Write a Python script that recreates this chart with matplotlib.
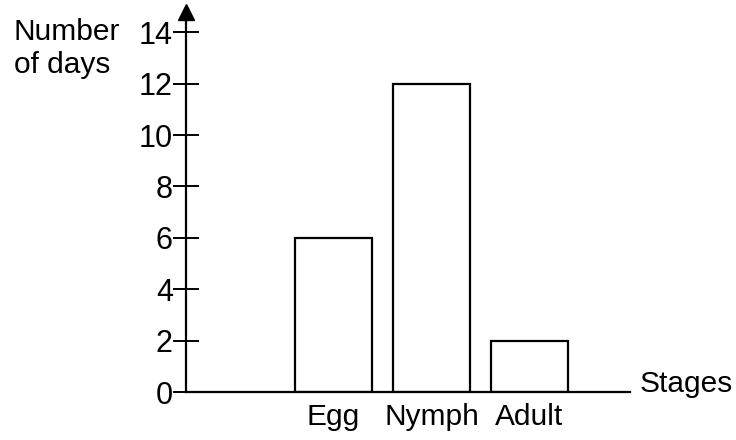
import matplotlib
matplotlib.use("Agg")
import matplotlib.pyplot as plt

plt.rcParams['font.family'] = ['Liberation Sans', 'DejaVu Sans']

stages = ["Egg", "Nymph", "Adult"]
days = [6, 12, 2]
yticks = [0, 2, 4, 6, 8, 10, 12, 14]

fig = plt.figure(figsize=(7.36, 4.4), dpi=100)
ax = fig.add_axes([186/736, 48/440, 444/736, (392-12)/440])

x = [1, 2, 3]
ax.bar(x, days, width=0.785, facecolor='white', edgecolor='black', linewidth=1.6, zorder=2)

ax.set_xlim(-0.505, 4.026)
ax.set_ylim(0, 380/25.7)

for s in ['top', 'right']:
    ax.spines[s].set_visible(False)
for s in ['left', 'bottom']:
    ax.spines[s].set_linewidth(1.6)

ax.set_yticks(yticks)
ax.set_yticklabels([str(v) for v in yticks], fontsize=22)
ax.tick_params(axis='y', direction='inout', length=19, width=1.4, pad=0)
ax.set_xticks(x)
ax.set_xticklabels(stages, fontsize=21.5)
ax.tick_params(axis='x', length=0, pad=8)

# arrow head on y axis
ax.plot([-0.505], [380/25.7], marker='^', markersize=11, color='black', clip_on=False)

fig.text(14/736, 1 - 40/440, "Number", fontsize=21.5, ha='left', va='baseline')
fig.text(14/736, 1 - 73/440, "of days", fontsize=21.5, ha='left', va='baseline')
fig.text(640/736, 1 - 392/440, "Stages", fontsize=21.5, ha='left', va='baseline')

fig.savefig("out.png", dpi=100)
